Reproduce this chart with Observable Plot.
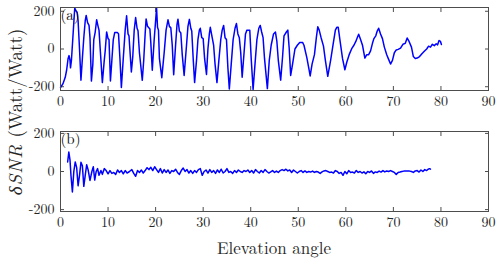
<!DOCTYPE html>
<html>
<head>
<meta charset="utf-8">
<script src="https://cdn.jsdelivr.net/npm/d3@7"></script>
<script src="https://cdn.jsdelivr.net/npm/@observablehq/plot@0.6"></script>
<style>
  html, body { margin: 0; padding: 0; background: #fff; }
  #chart { position: relative; width: 500px; height: 261px; font-family: "Latin Modern Roman", "Liberation Serif", serif; color: #262626; }
  #chart svg { position: absolute; left: 0; }
  .lbl { position: absolute; white-space: nowrap; font-family: "Latin Modern Roman", "Liberation Serif", serif; }
</style>
</head>
<body>
<div id="chart"></div>
<script>
// ---- data ----
const xTicks = [0, 10, 20, 30, 40, 50, 60, 70, 80, 90];
const yTicks = [-200, 0, 200];
const panelLabels = ["(a)", "(b)"];
const xLabel = "Elevation angle";

// panel (a): raw SNR oscillation
const topElev = [0.0,0.5,1.0,1.3,1.6,1.8,2.0,2.1,2.3,2.6,2.9,3.0,3.3,3.5,3.7,4.0,4.3,4.6,4.9,5.2,5.4,5.7,6.0,6.2,6.5,6.8,7.0,7.3,7.6,7.9,8.1,8.4,8.8,9.2,9.4,9.7,10.0,10.2,10.5,10.8,11.1,11.4,12.0,12.2,12.5,12.8,13.2,13.6,13.9,14.2,14.4,14.9,15.2,15.5,15.8,16.1,16.3,16.6,17.2,17.5,17.8,18.0,18.3,18.8,19.0,19.3,19.7,20.0,20.2,20.4,20.6,20.8,21.3,21.8,22.2,22.6,22.9,23.2,23.5,23.8,24.2,24.5,24.7,25.0,25.3,25.6,26.0,26.5,26.8,27.1,27.4,27.6,27.9,28.2,28.6,28.9,29.2,29.4,29.7,30.0,30.3,30.7,31.0,31.3,31.5,31.9,32.2,32.5,32.9,33.3,33.7,34.0,34.3,34.6,34.9,35.2,35.5,35.9,36.3,36.7,37.0,37.3,37.6,37.9,38.2,38.6,38.9,39.2,39.8,40.1,40.5,40.9,41.3,41.7,42.0,42.3,42.6,42.9,43.5,43.9,44.3,44.8,45.2,45.5,45.8,46.3,46.7,47.0,47.5,47.8,48.1,48.4,48.8,49.3,49.8,50.3,50.9,51.2,51.8,52.2,52.5,52.9,53.4,53.8,54.1,54.4,54.8,55.3,55.7,56.2,56.8,57.3,57.8,58.1,58.4,58.8,59.3,59.8,60.2,60.7,61.3,61.7,62.1,62.4,62.7,63.1,63.5,64.0,64.4,64.8,65.2,65.6,65.9,66.3,66.6,66.9,67.3,67.7,68.1,68.6,69.0,69.4,69.8,70.2,70.6,71.0,71.5,72.0,72.5,72.9,73.3,73.8,74.2,74.6,75.0,75.5,76.0,76.5,77.0,77.4,77.8,78.2,78.6,79.0,79.3,79.6,79.9,80.1];
const topSNR = [-204,-185,-150,-110,-50,-35,-60,-100,-60,60,180,217,200,195,150,0,-165,-50,60,150,178,140,125,60,-170,-80,50,90,155,120,100,-20,-178,-60,-10,90,55,50,-170,-60,50,87,87,80,-50,-204,-50,100,176,80,70,-122,-40,100,167,110,97,-20,-166,-60,80,159,120,106,30,-113,50,150,217,115,100,-50,-152,-20,100,155,120,112,20,-136,20,130,158,95,85,-30,-140,20,120,157,110,95,-50,-178,-60,50,100,110,60,55,-50,-135,0,80,115,60,20,-80,-178,-60,50,100,125,60,50,-100,-212,-80,50,110,135,80,60,-20,-150,-20,80,100,100,-50,-215,-80,50,110,125,90,60,-50,-210,-60,20,80,90,40,-60,-165,-40,70,90,100,0,-140,-80,0,20,35,35,20,-46,-100,-143,-80,-30,60,118,100,60,15,-60,-145,-60,20,100,115,115,40,-50,-110,-70,-30,5,20,40,60,78,50,20,-48,-30,-30,-10,30,55,70,95,110,80,55,10,-30,-55,-80,-60,-20,-5,-2,5,25,30,58,40,10,-40,-50,-48,-40,-25,-12,0,15,10,25,18,28,22,45,40,24];

// panel (b): residual after model removal
const botElev = [1.5,1.75,2.0,2.2,2.5,2.8,3.1,3.4,3.7,4.0,4.3,4.6,4.9,5.2,5.5,5.8,6.2,6.6,6.9,7.2,7.5,7.8,8.1,8.5,8.8,9.2,9.6,10.0,10.4,10.8,11.2,11.6,12.0,12.4,12.8,13.2,13.6,14.0,14.5,15.0,15.4,15.8,16.2,16.6,17.0,17.4,17.8,18.2,18.6,19.0,19.4,19.8,20.2,20.6,21.0,21.4,21.8,22.2,22.6,23.0,23.4,23.8,24.2,24.6,25.0,25.4,25.8,26.2,26.6,27.0,27.4,27.8,28.2,28.6,29.0,29.4,29.8,30.2,30.6,31.0,31.4,31.8,32.2,32.6,33.0,33.4,33.8,34.2,34.6,35.0,35.4,35.8,36.2,36.6,37.0,37.4,37.8,38.2,38.6,39.0,39.4,39.8,40.2,40.6,41.0,41.4,41.8,42.2,42.6,43.0,43.4,43.8,44.2,44.6,45.0,45.4,45.8,46.2,46.6,47.0,47.4,47.8,48.2,48.6,49.0,49.4,49.8,50.2,50.6,51.0,51.4,51.8,52.2,52.6,53.0,53.4,53.8,54.2,54.6,55.0,55.4,55.8,56.2,56.6,57.0,57.4,57.8,58.2,58.6,59.0,59.4,59.8,60.2,60.6,61.0,61.4,61.8,62.2,62.6,63.0,63.4,63.8,64.2,64.6,65.0,65.4,65.8,66.2,66.6,67.0,67.4,67.8,68.2,68.6,69.0,69.4,69.8,70.2,70.6,71.0,71.4,71.8,72.2,72.6,73.0,73.4,73.8,74.2,74.6,75.0,75.4,75.8,76.2,76.6,77.0,77.3,77.6,77.8];
const botSNR = [50,102,60,-20,-107,0,50,20,-75,-20,48,30,-78,-20,35,10,-47,0,25,-45,0,15,-20,5,-15,15,5,-12,5,-10,-5,-15,8,-5,5,-12,5,-8,0,10,-10,-25,5,-5,8,-8,5,20,10,22,5,25,10,-5,15,-8,10,-5,8,-10,5,0,12,-5,-15,5,18,0,10,-8,5,-10,5,-5,10,15,-20,0,8,-8,10,-5,5,-10,8,-5,12,-8,0,15,-5,0,-10,5,-5,8,0,-5,5,0,8,-5,5,-8,10,0,-8,5,-5,10,0,-8,-2,5,-5,2,-5,5,10,5,12,3,8,-5,8,0,-8,0,5,-5,3,-5,0,-3,2,-5,0,-3,-10,-2,3,5,0,-5,-3,-8,5,0,-10,-5,-20,0,-12,5,-5,-3,-8,5,-5,0,-8,-2,-12,0,-5,3,-10,-2,-5,2,-3,5,-2,3,0,5,0,-5,-15,-5,-3,0,2,2,2,2,0,-5,3,5,-3,8,0,10,5,12,15,12];

const topData = topElev.map((x, i) => ({x, y: topSNR[i]}));
const botData = botElev.map((x, i) => ({x, y: botSNR[i]}));

const frameColor = "#4d4d4d";
const lineColor = "#0000ff";
const serif = '"Latin Modern Roman", "Liberation Serif", serif';
const fmt = d => String(d);

function panel(data, yDomain, label, opts) {
  return Plot.plot({
    width: 500,
    height: opts.height,
    marginLeft: 60,
    marginRight: 12,
    marginTop: opts.marginTop,
    marginBottom: opts.marginBottom,
    x: {domain: [0, 90]},
    y: {domain: yDomain},
    style: {fontFamily: serif, fontSize: "14px", color: "#262626", background: "transparent", overflow: "visible"},
    marks: [
      Plot.axisX(xTicks, {anchor: "bottom", tickSize: 0, tickPadding: 6, tickFormat: fmt, label: null, fontSize: 14, fontFamily: serif}),
      Plot.axisX(xTicks, {anchor: "bottom", tickSize: -4, tickFormat: () => "", label: null, stroke: frameColor}),
      Plot.axisX(xTicks, {anchor: "top", tickSize: -4, tickFormat: () => "", label: null, stroke: frameColor}),
      Plot.axisY(yTicks, {anchor: "left", tickSize: 0, tickPadding: 6, tickFormat: fmt, label: null, fontSize: 14, fontFamily: serif}),
      Plot.axisY(yTicks, {anchor: "left", tickSize: -4, tickFormat: () => "", label: null, stroke: frameColor}),
      Plot.axisY(yTicks, {anchor: "right", tickSize: -4, tickFormat: () => "", label: null, stroke: frameColor}),
      Plot.line(data, {x: "x", y: "y", stroke: lineColor, strokeWidth: 1.5}),
      Plot.frame({stroke: frameColor}),
      Plot.text([label], {frameAnchor: "top-left", dx: 0, dy: 2, text: d => d, fontSize: 15, fontFamily: serif, textAnchor: "start", lineAnchor: "top", fill: "#111"})
    ]
  });
}

const chart = document.getElementById("chart");
const pa = panel(topData, [-220, 220], panelLabels[0], {height: 112, marginTop: 7, marginBottom: 22});
pa.style.top = "0px";
chart.appendChild(pa);
const pb = panel(botData, [-210, 210], panelLabels[1], {height: 149, marginTop: 19, marginBottom: 50});
pb.style.top = "112px";
chart.appendChild(pb);

const xl = document.createElement("div");
xl.className = "lbl";
xl.textContent = xLabel;
xl.style.cssText += "left:274px;top:247px;transform:translate(-50%,-50%);font-size:17px;";
chart.appendChild(xl);

const yl = document.createElement("div");
yl.className = "lbl";
yl.innerHTML = '<span style="font-style:italic;letter-spacing:1px">&delta;SNR</span> (Watt/Watt)';
yl.style.cssText += "left:14px;top:112px;transform:translate(-50%,-50%) rotate(-90deg);font-size:19px;";
chart.appendChild(yl);
</script>
</body>
</html>
